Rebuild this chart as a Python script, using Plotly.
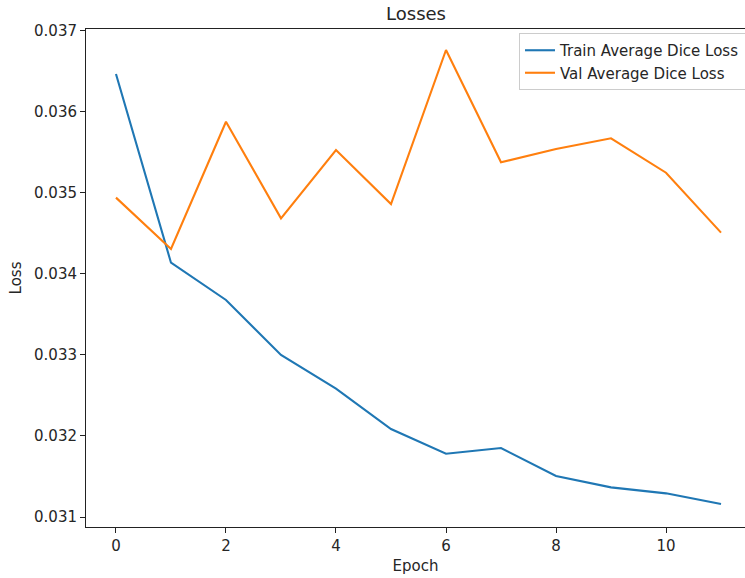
import plotly.graph_objects as go

epochs = list(range(12))
train_loss = [0.036462, 0.034136, 0.033676, 0.032998, 0.032582, 0.032085,
              0.031780, 0.031851, 0.031506, 0.031366, 0.031292, 0.031160]
val_loss = [0.034938, 0.034305, 0.035874, 0.034683, 0.035525, 0.034859,
            0.036758, 0.035374, 0.035538, 0.035670, 0.035245, 0.034506]
x_ticks = [0, 2, 4, 6, 8, 10]
y_ticks = [0.031, 0.032, 0.033, 0.034, 0.035, 0.036, 0.037]

FONT = "DejaVu Sans"
TXT = "#262626"

fig = go.Figure()
fig.add_trace(go.Scatter(x=epochs, y=train_loss, mode="lines",
                         name="Train Average Dice Loss",
                         line=dict(color="#1f77b4", width=2.1)))
fig.add_trace(go.Scatter(x=epochs, y=val_loss, mode="lines",
                         name="Val Average Dice Loss",
                         line=dict(color="#ff7f0e", width=2.1)))

fig.update_layout(
    width=745, height=578,
    margin=dict(l=86, r=0, t=29, b=51, autoexpand=False),
    paper_bgcolor="white", plot_bgcolor="white",
    font=dict(family=FONT, size=15, color=TXT),
    title=dict(text="Losses", x=(416 / 745), xanchor="center",
               y=1 - 14 / 578, yanchor="middle",
               font=dict(family=FONT, size=18, color=TXT)),
    showlegend=True,
    legend=dict(x=(519 - 86) / 659, xanchor="left", y=(527 - 33) / 498, yanchor="top",
                bgcolor="rgba(255,255,255,0.8)", bordercolor="#cccccc",
                borderwidth=1, font=dict(family=FONT, size=15, color=TXT),
                tracegroupgap=0, itemwidth=30),
)
fig.update_xaxes(
    range=[-0.545, 11.436], tickvals=x_ticks, ticktext=[str(t) for t in x_ticks],
    showgrid=False, zeroline=False, showline=True, linecolor="#222222",
    linewidth=1, mirror=True, ticks="outside", ticklen=5, tickcolor="#222222",
    tickfont=dict(family=FONT, size=15, color=TXT), automargin=False,
    title=dict(text="Epoch", font=dict(family=FONT, size=15, color=TXT), standoff=6),
)
fig.update_yaxes(
    range=[0.030877, 0.037017], tickvals=y_ticks,
    ticktext=[f"{t:.3f}" for t in y_ticks],
    showgrid=False, zeroline=False, showline=True, linecolor="#222222",
    linewidth=1, mirror=False, ticks="outside", ticklen=5, tickcolor="#222222",
    tickfont=dict(family=FONT, size=15, color=TXT), automargin=False,
    title=dict(text="Loss", font=dict(family=FONT, size=15, color=TXT), standoff=8),
)

fig.write_html("out.html", config={"displayModeBar": False},
               post_script="document.body.style.margin='0px';"
                           "document.body.style.overflow='hidden';")
